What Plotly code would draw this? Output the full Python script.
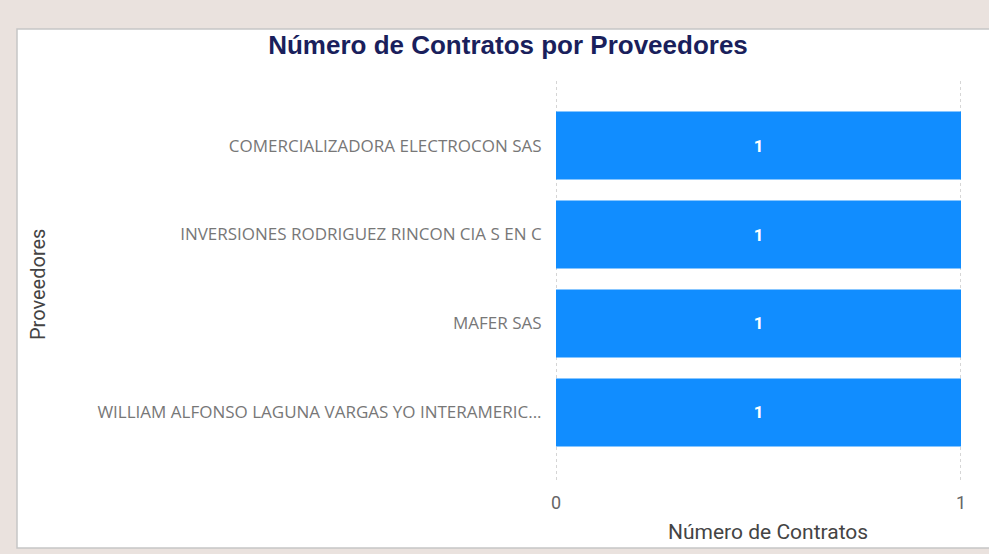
import plotly.graph_objects as go

proveedores = [
    "COMERCIALIZADORA ELECTROCON SAS",
    "INVERSIONES RODRIGUEZ RINCON CIA S EN C",
    "MAFER SAS",
    "WILLIAM ALFONSO LAGUNA VARGAS YO INTERAMERIC...",
]
contratos = [1, 1, 1, 1]
x_ticks = [0, 1]

W, H = 989, 554
# plot area in pixels
L, R, T, B = 556, 961, 78, 480


def px_x(p):
    return (p - L) / (R - L)


def px_y(p):
    return (B - p) / (B - T)


fig = go.Figure(go.Bar(
    x=contratos,
    y=proveedores,
    orientation="h",
    marker=dict(color="#118DFF", line=dict(width=0)),
    text=contratos,
    textposition="inside",
    insidetextanchor="middle",
    textfont=dict(color="white", size=17, family="Roboto", weight="bold"),
    width=0.764,
    hoverinfo="skip",
))

# white card on the beige page
fig.add_shape(
    type="rect", xref="paper", yref="paper", layer="below",
    x0=px_x(17), x1=px_x(995), y0=px_y(548), y1=px_y(29),
    fillcolor="white", line=dict(color="#C6C6C6", width=1.5),
)

# dotted gridlines (plotly drops grid at the range ends)
for v in x_ticks:
    fig.add_shape(
        type="line", xref="x", yref="paper", layer="below",
        x0=v, x1=v, y0=0, y1=1,
        line=dict(color="#C8C8C8", width=1.5, dash="dot"),
    )

fig.add_annotation(
    text="Proveedores", xref="paper", yref="paper",
    x=px_x(38), y=px_y(285), textangle=-90, showarrow=False,
    xanchor="center", yanchor="middle",
    font=dict(family="Roboto", size=20, color="#444444"),
)
fig.add_annotation(
    text="Número de Contratos", xref="paper", yref="paper",
    x=px_x(768), y=px_y(532), showarrow=False,
    xanchor="center", yanchor="middle",
    font=dict(family="Roboto", size=21, color="#444444"),
)

fig.update_layout(
    width=W, height=H,
    margin=dict(l=L, r=W - R, t=T, b=H - B),
    paper_bgcolor="#EAE2DE",
    plot_bgcolor="rgba(0,0,0,0)",
    showlegend=False,
    title=dict(
        text="<b>Número de Contratos por Proveedores</b>",
        x=508 / W, xanchor="center", xref="container",
        y=1 - 45 / H, yanchor="middle", yref="container",
        font=dict(family="Liberation Sans", size=26, color="#1A1F5C"),
    ),
    xaxis=dict(
        range=[0, 1], tickvals=x_ticks, showgrid=False,
        zeroline=False, showline=False,
        ticks="outside", ticklen=6, tickcolor="rgba(0,0,0,0)",
        tickfont=dict(family="Roboto", size=18, color="#666666"),
        fixedrange=True,
    ),
    yaxis=dict(
        range=[3.76, -0.76], showgrid=False, zeroline=False, showline=False,
        ticks="outside", ticklen=10, tickcolor="rgba(0,0,0,0)",
        tickfont=dict(family="Open Sans", size=17, color="#777777"),
        fixedrange=True,
    ),
)

fig.write_html(
    "out.html",
    config={"displayModeBar": False},
    post_script="document.body.style.margin='0';",
)
